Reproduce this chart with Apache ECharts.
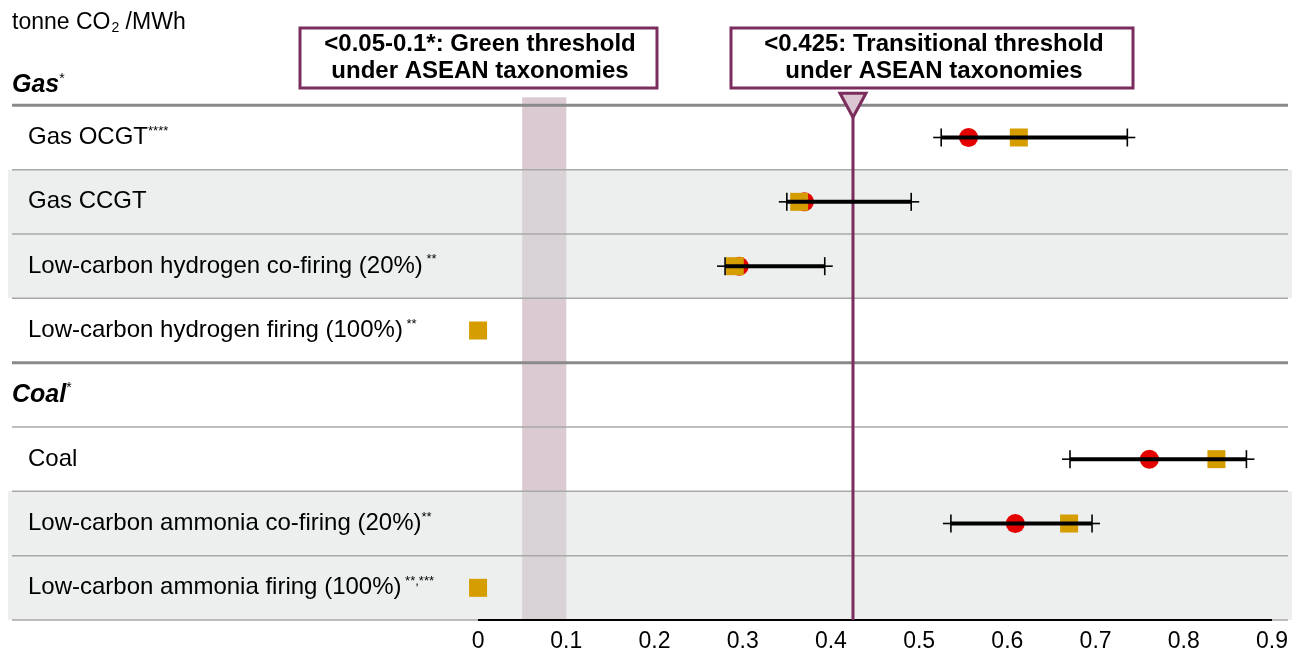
<!DOCTYPE html>
<html>
<head>
<meta charset="utf-8">
<script src="https://cdn.jsdelivr.net/npm/echarts@6/dist/echarts.min.js"></script>
<style>
  html, body { margin: 0; padding: 0; background: #fff; }
  #chart { width: 1300px; height: 658px; }
</style>
</head>
<body>
<div id="chart"></div>
<script>
// Row labels (trailing asterisks are note markers, drawn as superscripts)
const categories = [
  'Gas*',
  'Gas OCGT****',
  'Gas CCGT',
  'Low-carbon hydrogen co-firing (20%) **',
  'Low-carbon hydrogen firing (100%) **',
  'Coal*',
  'Coal',
  'Low-carbon ammonia co-firing (20%)**',
  'Low-carbon ammonia firing (100%) **,***'
];
const headerRows = [0, 5];
const shadedRows = [2, 3, 7, 8];
const heavyRuleRows = [0, 4];

// Emission intensity, tonne CO2/MWh (null = no value for that row)
const centralEstimate   = [null, 0.556, 0.370, 0.296, null, null, 0.761, 0.609, null];
const secondaryEstimate = [null, 0.613, 0.364, 0.291, 0.000, null, 0.837, 0.670, 0.000];
const rangeLow          = [null, 0.525, 0.350, 0.280, null, null, 0.671, 0.536, null];
const rangeHigh         = [null, 0.736, 0.491, 0.393, null, null, 0.871, 0.696, null];

// Taxonomy thresholds
const greenThreshold = [0.05, 0.1];
const transitionalThreshold = 0.425;

const tickValues = [0, 0.1, 0.2, 0.3, 0.4, 0.5, 0.6, 0.7, 0.8, 0.9];

const FONT = '"Liberation Sans", Arial, Helvetica, sans-serif';
const PURPLE = '#7B2D5E';

const chart = echarts.init(document.getElementById('chart'));

function rowBox(api, row) {
  const cy = api.coord([0, row])[1];
  const h = api.size([0, 1])[1];
  return { top: cy - h / 2, bottom: cy + h / 2, cy: cy, h: h };
}

function pointsFor(values) {
  const out = [];
  values.forEach((v, i) => { if (v !== null) out.push([v, i]); });
  return out;
}

const rangeData = [];
rangeLow.forEach((lo, i) => { if (lo !== null) rangeData.push([lo, rangeHigh[i], i]); });

function labelFormatter(value, index) {
  const m = value.match(/^(.*?)(\s?[*,]+)$/);
  const main = m ? m[1] : value;
  const sup = m ? m[2] : '';
  const isHeader = headerRows.indexOf(index) >= 0;
  let mainKey = isHeader ? 'h' : 'n';
  let supKey = isHeader ? 'hs' : 's';
  if (index === 0) { mainKey = 'h0'; supKey = 'hs0'; }
  return '{' + mainKey + '|' + main + '}' + (sup ? '{' + supKey + '|' + sup + '}' : '');
}

const option = {
  animation: false,
  backgroundColor: '#fff',
  grid: { left: 10, right: 10, top: 41, bottom: 38 },
  xAxis: {
    type: 'value',
    min: -0.5306,
    max: 0.9204,
    axisLine: { show: false },
    axisTick: { show: false },
    splitLine: { show: false },
    axisLabel: {
      customValues: tickValues,
      margin: 10,
      color: '#000',
      fontFamily: FONT,
      fontSize: 23
    }
  },
  yAxis: {
    type: 'category',
    inverse: true,
    data: categories,
    z: 10,
    axisLine: { show: false },
    axisTick: { show: false },
    splitLine: { show: false },
    axisLabel: {
      inside: true,
      interval: 0,
      margin: 2,
      formatter: labelFormatter,
      rich: {
        n:   { fontFamily: FONT, fontSize: 24, color: '#000', padding: [0, 0, 0, 16] },
        s:   { fontFamily: FONT, fontSize: 13, color: '#000', padding: [0, 0, 13, 0] },
        h:   { fontFamily: FONT, fontSize: 25, fontWeight: 'bold', fontStyle: 'italic', color: '#000' },
        hs:  { fontFamily: FONT, fontSize: 14, color: '#000', padding: [0, 0, 13, 0] },
        h0:  { fontFamily: FONT, fontSize: 25, fontWeight: 'bold', fontStyle: 'italic', color: '#000', padding: [24, 0, 0, 0] },
        hs0: { fontFamily: FONT, fontSize: 14, color: '#000', padding: [24, 0, 13, 0] }
      }
    }
  },
  graphic: [
    {
      type: 'text',
      left: 12,
      top: 11,
      z: 20,
      style: {
        text: '{a|tonne CO}{b|2}{a| /MWh}',
        rich: {
          a: { fontFamily: FONT, fontSize: 23, fill: '#000', color: '#000' },
          b: { fontFamily: FONT, fontSize: 14, fill: '#000', color: '#000', padding: [12, 0, 0, 1] }
        }
      }
    },
    {
      type: 'group',
      z: 20,
      children: [
        { type: 'rect', shape: { x: 300, y: 28, width: 357, height: 60 },
          style: { fill: '#fff', stroke: PURPLE, lineWidth: 3 } },
        { type: 'text', x: 480, y: 58,
          style: { text: '<0.05-0.1*: Green threshold\nunder ASEAN taxonomies',
                   fontFamily: FONT, fontSize: 24, fontWeight: 'bold', fill: '#000',
                   lineHeight: 27, align: 'center', verticalAlign: 'middle' } }
      ]
    },
    {
      type: 'group',
      z: 20,
      children: [
        { type: 'rect', shape: { x: 731, y: 28, width: 402, height: 60 },
          style: { fill: '#fff', stroke: PURPLE, lineWidth: 3 } },
        { type: 'text', x: 934, y: 58,
          style: { text: '<0.425: Transitional threshold\nunder ASEAN taxonomies',
                   fontFamily: FONT, fontSize: 24, fontWeight: 'bold', fill: '#000',
                   lineHeight: 27, align: 'center', verticalAlign: 'middle' } }
      ]
    }
  ],
  series: [
    // Green-threshold band
    {
      type: 'custom',
      z: 1,
      silent: true,
      data: [[greenThreshold[0], greenThreshold[1], 0]],
      encode: { x: [0, 1], y: 2 },
      renderItem: function (params, api) {
        const cs = params.coordSys;
        const x1 = api.coord([api.value(0), 0])[0];
        const x2 = api.coord([api.value(1), 0])[0];
        const top = rowBox(api, 1).top - 8;
        return { type: 'rect', shape: { x: x1, y: top, width: x2 - x1, height: cs.y + cs.height - top },
                 style: { fill: '#DCCAD3' } };
      }
    },
    // Shaded rows
    {
      type: 'custom',
      z: 2,
      silent: true,
      data: shadedRows.map(r => [0, r]),
      encode: { x: 0, y: 1 },
      renderItem: function (params, api) {
        const cs = params.coordSys;
        const b = rowBox(api, api.value(1));
        return { type: 'rect', shape: { x: cs.x - 2, y: b.top, width: cs.width + 4, height: b.h },
                 style: { fill: 'rgba(213,220,218,0.46)' } };
      }
    },
    // Row rules
    {
      type: 'custom',
      z: 3,
      silent: true,
      data: categories.map((c, i) => [0, i]),
      encode: { x: 0, y: 1 },
      renderItem: function (params, api) {
        const cs = params.coordSys;
        const row = api.value(1);
        const b = rowBox(api, row);
        const heavy = heavyRuleRows.indexOf(row) >= 0;
        return { type: 'line', shape: { x1: cs.x + 2, y1: b.bottom, x2: cs.x + cs.width - 2, y2: b.bottom },
                 style: { stroke: heavy ? '#8A8A8A' : '#A8A8A8', lineWidth: heavy ? 3 : 1.5 } };
      }
    },
    // Value axis base line
    {
      type: 'custom',
      z: 4,
      silent: true,
      data: [[tickValues[0], tickValues[tickValues.length - 1], categories.length - 1]],
      encode: { x: [0, 1], y: 2 },
      renderItem: function (params, api) {
        const cs = params.coordSys;
        const x1 = api.coord([api.value(0), 0])[0];
        const x2 = api.coord([api.value(1), 0])[0];
        const y = cs.y + cs.height;
        return { type: 'line', shape: { x1: x1, y1: y, x2: x2, y2: y },
                 style: { stroke: '#000', lineWidth: 2 } };
      }
    },
    // Transitional threshold line
    {
      type: 'custom',
      z: 4,
      silent: true,
      data: [[transitionalThreshold, 1]],
      encode: { x: 0, y: 1 },
      renderItem: function (params, api) {
        const cs = params.coordSys;
        const x = api.coord([api.value(0), 0])[0];
        const tip = rowBox(api, 1).top + 12;
        return { type: 'line', shape: { x1: x, y1: tip, x2: x, y2: cs.y + cs.height },
                 style: { stroke: PURPLE, lineWidth: 3 } };
      }
    },
    {
      name: 'Central estimate',
      type: 'scatter',
      z: 5,
      symbol: 'circle',
      symbolSize: 19,
      itemStyle: { color: '#E50000', opacity: 1 },
      data: pointsFor(centralEstimate)
    },
    {
      name: 'Secondary estimate',
      type: 'scatter',
      z: 6,
      symbol: 'rect',
      symbolSize: 18,
      itemStyle: { color: '#D69D00', opacity: 1 },
      data: pointsFor(secondaryEstimate)
    },
    // Range bars
    {
      type: 'custom',
      z: 7,
      silent: true,
      data: rangeData,
      encode: { x: [0, 1], y: 2 },
      renderItem: function (params, api) {
        const row = api.value(2);
        const p1 = api.coord([api.value(0), row]);
        const p2 = api.coord([api.value(1), row]);
        const y = p1[1];
        const cap = 9, stub = 8;
        const thin = { stroke: '#000', lineWidth: 1.6 };
        return {
          type: 'group',
          children: [
            { type: 'line', shape: { x1: p1[0] - stub, y1: y, x2: p1[0], y2: y }, style: thin },
            { type: 'line', shape: { x1: p2[0], y1: y, x2: p2[0] + stub, y2: y }, style: thin },
            { type: 'line', shape: { x1: p1[0], y1: y - cap, x2: p1[0], y2: y + cap }, style: thin },
            { type: 'line', shape: { x1: p2[0], y1: y - cap, x2: p2[0], y2: y + cap }, style: thin },
            { type: 'line', shape: { x1: p1[0], y1: y, x2: p2[0], y2: y },
              style: { stroke: '#000', lineWidth: 4 } }
          ]
        };
      }
    },
    // Threshold marker
    {
      type: 'custom',
      z: 8,
      silent: true,
      data: [[transitionalThreshold, 1]],
      encode: { x: 0, y: 1 },
      renderItem: function (params, api) {
        const x = api.coord([api.value(0), 0])[0];
        const edge = rowBox(api, 1).top;
        return { type: 'polygon',
                 shape: { points: [[x - 13, edge - 12], [x + 13, edge - 12], [x, edge + 12]] },
                 style: { fill: '#DCC6D2', stroke: PURPLE, lineWidth: 3, lineJoin: 'miter' } };
      }
    }
  ]
};

chart.setOption(option);
</script>
</body>
</html>
